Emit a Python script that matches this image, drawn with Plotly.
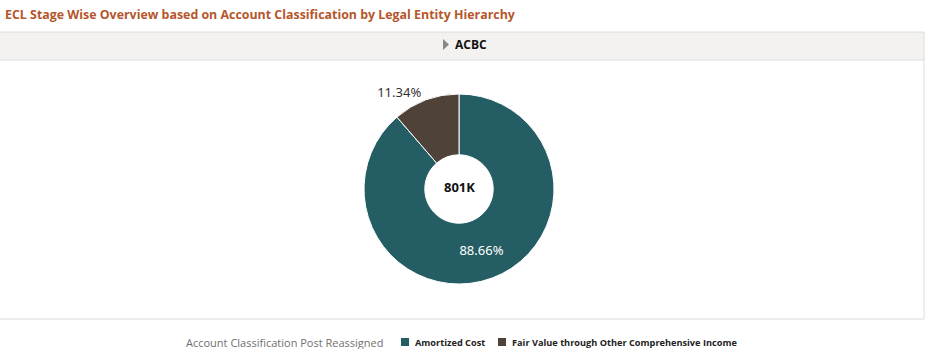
import plotly.graph_objects as go

# Account classification split for legal entity ACBC
categories = ["Amortized Cost", "Fair Value through Other Comprehensive Income"]
values = [710200, 90800]
colors = ["#245d63", "#4e4239"]
entity = "ACBC"
title_text = "ECL Stage Wise Overview based on Account Classification by Legal Entity Hierarchy"
legend_title = "Account Classification Post Reassigned"

W, H = 928, 349


def px(x):
    return x / W


def py(y):
    return 1 - y / H


total = sum(values)
center_label = f"{total / 1000:.0f}K"

fig = go.Figure(
    go.Pie(
        labels=categories,
        values=values,
        hole=0.36,
        sort=False,
        direction="clockwise",
        rotation=0,
        marker=dict(colors=colors, line=dict(color="white", width=1)),
        textinfo="percent",
        texttemplate="%{percent:.2%}",
        textposition=["inside", "outside"],
        insidetextfont=dict(family="Noto Sans", size=13, color="white"),
        outsidetextfont=dict(family="Noto Sans", size=13, color="#333333"),
        insidetextorientation="horizontal",
        domain=dict(x=[px(364), px(554)], y=[py(284), py(94)]),
        showlegend=False,
        hoverinfo="label+value+percent",
    )
)

shapes = [
    # header band
    dict(type="rect", xref="paper", yref="paper", x0=0, x1=px(924), y0=py(60), y1=py(32),
         fillcolor="#f3f2f0", line=dict(width=0), layer="below"),
    dict(type="line", xref="paper", yref="paper", x0=0, x1=px(924), y0=py(32), y1=py(32),
         line=dict(color="#dcdcdc", width=1)),
    dict(type="line", xref="paper", yref="paper", x0=0, x1=px(924), y0=py(60), y1=py(60),
         line=dict(color="#dcdcdc", width=1)),
    # panel right and bottom borders
    dict(type="line", xref="paper", yref="paper", x0=px(924), x1=px(924), y0=py(319), y1=py(32),
         line=dict(color="#dcdcdc", width=1)),
    dict(type="line", xref="paper", yref="paper", x0=0, x1=px(924), y0=py(319), y1=py(319),
         line=dict(color="#dcdcdc", width=1)),
    # expand triangle
    dict(type="path", xref="paper", yref="paper",
         path=f"M {px(443)},{py(39)} L {px(449)},{py(44.5)} L {px(443)},{py(50)} Z",
         fillcolor="#8c8782", line=dict(width=0)),
]

annotations = [
    dict(text=f"<b>{title_text}</b>", xref="paper", yref="paper", x=px(3), y=py(14),
         xanchor="left", yanchor="middle", showarrow=False,
         font=dict(family="Open Sans", size=12.4, color="#b5562b")),
    dict(text=f"<b>{entity}</b>", xref="paper", yref="paper", x=px(453), y=py(45),
         xanchor="left", yanchor="middle", showarrow=False,
         font=dict(family="Open Sans", size=12, color="#111111")),
    dict(text=f"<b>{center_label}</b>", xref="paper", yref="paper", x=px(459), y=py(187),
         xanchor="center", yanchor="middle", showarrow=False,
         font=dict(family="Open Sans", size=13, color="#111111")),
    # legend title
    dict(text=legend_title, xref="paper", yref="paper", x=px(385), y=py(342),
         xanchor="right", yanchor="middle", showarrow=False,
         font=dict(family="Open Sans", size=11, color="#707070")),
]

# legend entries: swatch left edge and label left edge (px)
legend_swatch_x = [401, 498]
legend_text_x = [413, 510]
legend_y = 342
for name, color, sx, tx in zip(categories, colors, legend_swatch_x, legend_text_x):
    shapes.append(dict(type="rect", xref="paper", yref="paper",
                       x0=px(sx), x1=px(sx + 8), y0=py(legend_y + 4), y1=py(legend_y - 4),
                       fillcolor=color, line=dict(width=0)))
    annotations.append(dict(text=f"<b>{name}</b>", xref="paper", yref="paper", x=px(tx), y=py(legend_y),
                            xanchor="left", yanchor="middle", showarrow=False,
                            font=dict(family="Open Sans", size=9.2, color="#222222")))

fig.update_layout(
    width=W,
    height=H,
    margin=dict(l=0, r=0, t=0, b=0),
    paper_bgcolor="white",
    plot_bgcolor="white",
    shapes=shapes,
    annotations=annotations,
    showlegend=False,
)

fig.write_html("out.html")
